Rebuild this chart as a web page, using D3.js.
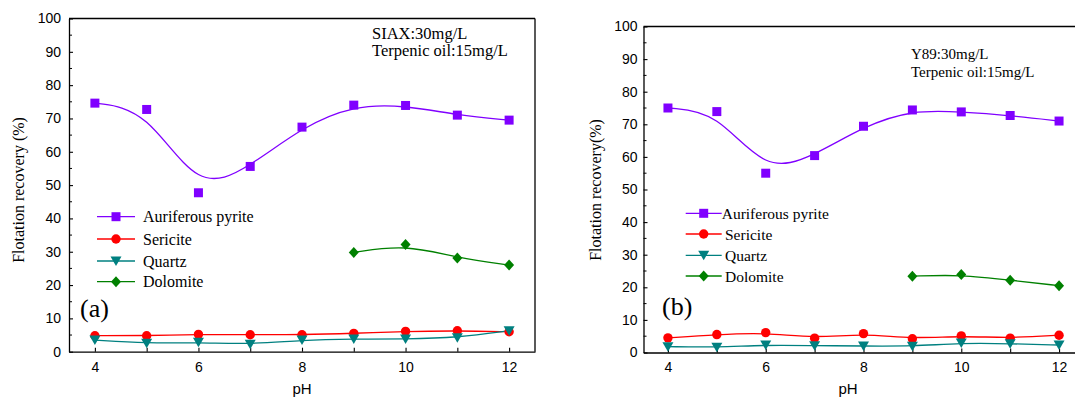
<!DOCTYPE html>
<html>
<head>
<meta charset="utf-8">
<script src="https://cdn.jsdelivr.net/npm/d3@7"></script>
<style>
  html, body { margin: 0; padding: 0; background: #fff; }
  svg { display: block; }
</style>
</head>
<body>
<svg id="chart" width="1075" height="400"></svg>
<script>
// ---------------- DATA ----------------
const pH = [4, 5, 6, 7, 8, 9, 10, 11, 12];
const pHDolomite = [9, 10, 11, 12];
const seriesNames = ["Auriferous pyrite", "Sericite", "Quartz", "Dolomite"];
const xTicks = [4, 5, 6, 7, 8, 9, 10, 11, 12];
const xTickLabels = [4, 6, 8, 10, 12];
const yTickLabels = [0, 10, 20, 30, 40, 50, 60, 70, 80, 90, 100];

// panel (a): SIAX
const aPyrite   = [74.6, 72.7, 47.7, 55.6, 67.4, 74.0, 73.9, 71.0, 69.5];
const aSericite = [4.8, 4.8, 5.2, 5.1, 5.1, 5.5, 6.1, 6.3, 6.0];
const aQuartz   = [3.5, 2.5, 2.8, 2.2, 3.5, 3.8, 3.8, 4.2, 6.3];
const aDolomite = [29.8, 32.2, 28.1, 26.0];

// panel (b): Y89
const bPyrite   = [75.0, 73.9, 55.0, 60.4, 69.4, 74.4, 73.8, 72.7, 71.0];
const bSericite = [4.5, 5.5, 6.1, 4.4, 5.8, 4.2, 5.1, 4.4, 5.3];
const bQuartz   = [1.8, 1.6, 2.3, 2.1, 2.0, 1.9, 2.9, 2.7, 2.3];
const bDolomite = [23.4, 23.9, 22.2, 20.5];

const aNotes = ["SIAX:30mg/L", "Terpenic oil:15mg/L"];
const bNotes = ["Y89:30mg/L", "Terpenic oil:15mg/L"];

// ---------------- STYLE ----------------
const colors = ["#8000ff", "#ff0000", "#008080", "#008000"];
const shapes = ["square", "circle", "triangle", "diamond"];
const SERIF = "'Liberation Serif', 'Times New Roman', serif";
const SANS = "'Liberation Sans', Arial, sans-serif";

function markerPath(shape, s) {
  s = s || 1;
  switch (shape) {
    case "square":   return `M${-4.5*s},${-4.5*s}h${9*s}v${9*s}h${-9*s}Z`;
    case "triangle": return `M${-5.5*s},${-4.5*s}L${5.5*s},${-4.5*s}L0,${5*s}Z`;
    case "diamond":  return `M0,${-5.5*s}L${5*s},0L0,${5.5*s}L${-5*s},0Z`;
    default: return null;
  }
}
function drawMarker(g, shape, color, x, y) {
  if (shape === "circle") {
    g.append("circle").attr("cx", x).attr("cy", y).attr("r", 4.7).attr("fill", color);
  } else {
    g.append("path").attr("d", markerPath(shape)).attr("transform", `translate(${x},${y})`).attr("fill", color);
  }
}

const svg = d3.select("#chart");

function drawPanel(cfg) {
  const x = d3.scaleLinear().domain([3.5, 12.5]).range([cfg.left, cfg.right]);
  const y = d3.scaleLinear().domain([0, 100]).range([cfg.bottom, cfg.top]);
  const g = svg.append("g");

  // frame (top and right)
  g.append("line").attr("x1", cfg.left).attr("x2", cfg.right).attr("y1", cfg.top).attr("y2", cfg.top)
    .attr("stroke", "#000").attr("stroke-width", 1.3);
  g.append("line").attr("x1", cfg.right).attr("x2", cfg.right).attr("y1", cfg.top).attr("y2", cfg.bottom)
    .attr("stroke", "#000").attr("stroke-width", 1.3);

  // x axis
  const xAxis = d3.axisBottom(x).tickValues(xTicks).tickSizeInner(-4).tickSizeOuter(0)
    .tickFormat(d => xTickLabels.includes(d) ? d : "");
  const gx = g.append("g").attr("transform", `translate(0,${cfg.bottom})`).call(xAxis);
  gx.select(".domain").attr("stroke-width", 1.3);
  gx.selectAll(".tick line").attr("stroke-width", 1.1);
  gx.selectAll(".tick text").attr("font-family", SANS).attr("font-size", 14).attr("dy", "0.71em").attr("y", 10).attr("fill", "#000");

  // y axis: major labelled ticks + minor ticks
  const yAxis = d3.axisLeft(y).tickValues(yTickLabels).tickSizeInner(-4).tickSizeOuter(0).tickFormat(d3.format("d"));
  const gy = g.append("g").attr("transform", `translate(${cfg.left},0)`).call(yAxis);
  gy.select(".domain").attr("stroke-width", 1.3);
  gy.selectAll(".tick line").attr("stroke-width", 1.1);
  gy.selectAll(".tick text").attr("font-family", SANS).attr("font-size", 14).attr("x", -cfg.yLabelGap).attr("fill", "#000");
  const minor = d3.range(5, 100, 10);
  g.append("g").selectAll("line").data(minor).join("line")
    .attr("x1", cfg.left).attr("x2", cfg.left + 3).attr("y1", d => y(d)).attr("y2", d => y(d))
    .attr("stroke", "#000").attr("stroke-width", 1);

  // axis titles
  g.append("text").attr("x", cfg.pHx).attr("y", 394).attr("text-anchor", "middle")
    .attr("font-family", SANS).attr("font-size", 15).text("pH");
  g.append("text").attr("transform", `translate(${cfg.yTitleX},${cfg.yTitleY}) rotate(-90)`)
    .attr("text-anchor", "middle").attr("font-family", SERIF).attr("font-size", 16).text(cfg.yTitle);

  // series
  const data = [
    { xs: pH, ys: cfg.series[0] },
    { xs: pH, ys: cfg.series[1] },
    { xs: pH, ys: cfg.series[2] },
    { xs: pHDolomite, ys: cfg.series[3] }
  ];
  const line = d3.line().x(d => x(d[0])).y(d => y(d[1])).curve(d3.curveBasis);
  // draw order: dolomite, sericite, quartz, pyrite lines then markers
  [3, 1, 2, 0].forEach(i => {
    const pts = data[i].xs.map((v, k) => [v, data[i].ys[k]]);
    g.append("path").attr("d", line(pts)).attr("fill", "none").attr("stroke", colors[i]).attr("stroke-width", 1.3);
  });
  [3, 1, 2, 0].forEach(i => {
    data[i].xs.forEach((v, k) => drawMarker(g, shapes[i], colors[i], x(v), y(data[i].ys[k])));
  });

  // legend
  seriesNames.forEach((name, i) => {
    const ry = cfg.legendY[i];
    g.append("line").attr("x1", cfg.legX1).attr("x2", cfg.legX2).attr("y1", ry).attr("y2", ry)
      .attr("stroke", colors[i]).attr("stroke-width", 1.3);
    drawMarker(g, shapes[i], colors[i], (cfg.legX1 + cfg.legX2) / 2, ry);
    g.append("text").attr("x", cfg.legTextX[i]).attr("y", ry + 5.5)
      .attr("font-family", SERIF).attr("font-size", cfg.legFont).text(name);
  });

  // notes
  cfg.notes.forEach((t, i) => {
    g.append("text").attr("x", cfg.noteX).attr("y", cfg.noteY[i])
      .attr("font-family", SERIF).attr("font-size", cfg.noteFont).text(t);
  });

  // panel letter
  g.append("text").attr("x", cfg.letterX).attr("y", cfg.letterY)
    .attr("font-family", SERIF).attr("font-size", 26).text(cfg.letter);
}

drawPanel({
  left: 69, right: 535, top: 18.5, bottom: 351.7,
  yLabelGap: 8, pHx: 302, yTitleX: 24, yTitleY: 190,
  yTitle: "Flotation recovery (%)",
  series: [aPyrite, aSericite, aQuartz, aDolomite],
  legendY: [216.7, 239, 261, 281.7], legX1: 97, legX2: 135,
  legTextX: [143, 143, 143, 143], legFont: 16,
  notes: aNotes, noteX: 372, noteY: [39, 56], noteFont: 16.5,
  letter: "(a)", letterX: 80, letterY: 317
});

drawPanel({
  left: 643.5, right: 1083.5, top: 26.5, bottom: 352.5,
  yLabelGap: 6, pHx: 848, yTitleX: 601, yTitleY: 190,
  yTitle: "Flotation recovery(%)",
  series: [bPyrite, bSericite, bQuartz, bDolomite],
  legendY: [213.3, 234, 255.3, 276], legX1: 685.7, legX2: 721.7,
  legTextX: [721.7, 725, 725, 725], legFont: 15.5,
  notes: bNotes, noteX: 911, noteY: [58.5, 77], noteFont: 15,
  letter: "(b)", letterX: 662, letterY: 315
});
</script>
</body>
</html>
